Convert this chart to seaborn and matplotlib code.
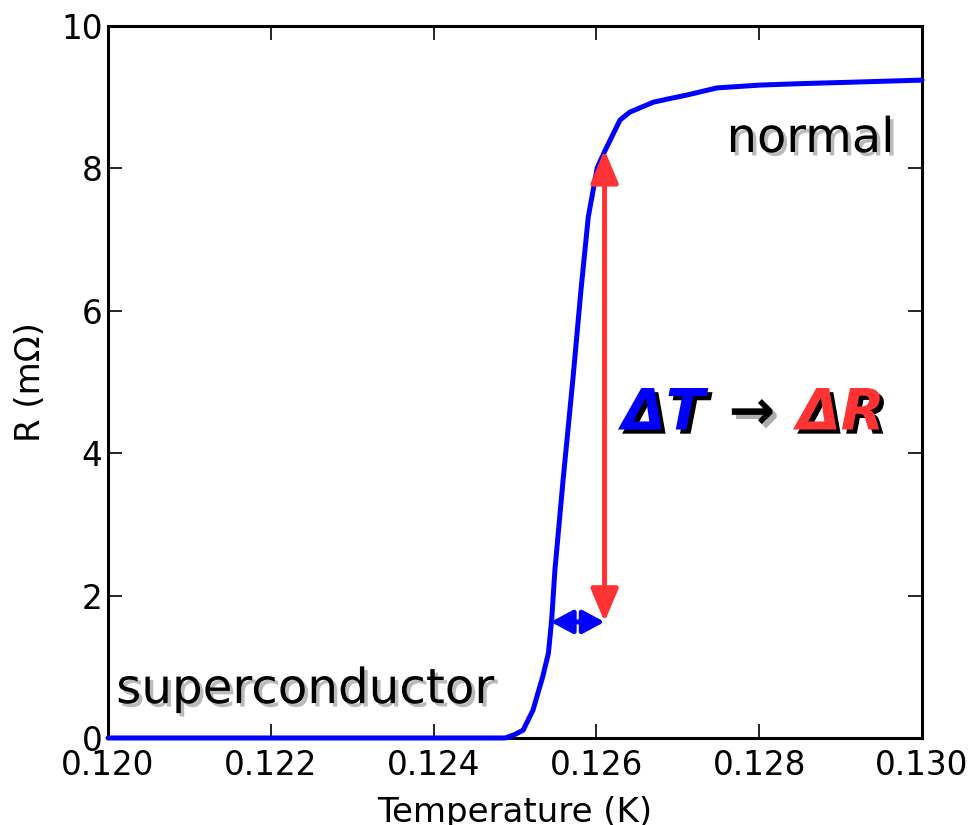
import matplotlib
matplotlib.use("Agg")
import matplotlib.pyplot as plt
import matplotlib.patheffects as pe
import numpy as np
import pandas as pd
import seaborn as sns

# Resistance transition of the superconducting film
temperature_K = [0.1200, 0.1230, 0.12488, 0.12500, 0.12510, 0.12522, 0.12534,
                 0.12541, 0.12545, 0.12549, 0.12559, 0.12571, 0.12581, 0.12590,
                 0.12601, 0.12611, 0.12629, 0.12641, 0.12670, 0.12690, 0.12711,
                 0.12748, 0.12801, 0.12850, 0.12912, 0.13000]
resistance_mOhm = [0.0, 0.0, 0.0, 0.05, 0.11, 0.39, 0.86,
                   1.19, 1.66, 2.36, 3.62, 5.03, 6.29, 7.32,
                   8.01, 8.26, 8.68, 8.79, 8.93, 8.98, 9.03,
                   9.13, 9.17, 9.19, 9.21, 9.24]

# Illustrated sensitivity: a small temperature step maps to a large resistance step
dT_start, dT_end = 0.12544, 0.12610
dR_low, dR_high = 1.63, 8.26

x_ticks = [0.120, 0.122, 0.124, 0.126, 0.128, 0.130]
y_ticks = [0, 2, 4, 6, 8, 10]

sns.set_style("ticks")
plt.rcParams["font.family"] = ["DejaVu Sans"]

df = pd.DataFrame({"T": temperature_K, "R": resistance_mOhm})

fig = plt.figure(figsize=(9.76, 8.25), dpi=100)
ax = fig.add_axes([0.1107, 0.1055, 0.834, 0.863])

sns.lineplot(data=df, x="T", y="R", ax=ax, color="#0000ff", linewidth=3.6,
             clip_on=False, zorder=3)

ax.set_xlim(0.120, 0.130)
ax.set_ylim(0, 10)
ax.set_xticks(x_ticks)
ax.set_xticklabels([f"{v:.3f}" for v in x_ticks])
ax.set_yticks(y_ticks)
ax.set_yticklabels([str(v) for v in y_ticks])
ax.tick_params(direction="in", length=10, width=1.2, top=True, right=True,
               labelsize=23.5, colors="black")
ax.tick_params(axis="x", pad=8)
ax.tick_params(axis="y", pad=4)
for s in ax.spines.values():
    s.set_linewidth(2.2)
    s.set_color("black")
ax.set_xlabel("Temperature (K)", fontsize=24.5, labelpad=10, color="black")
ax.set_ylabel("R (m\u03a9)", fontsize=24.5, labelpad=10, color="black")

# Double-headed arrows for ΔR (red) and ΔT (blue)
ax.annotate("", xy=(dT_end, dR_high), xytext=(dT_end, dR_low),
            arrowprops=dict(arrowstyle="<|-|>,head_length=1.0,head_width=0.42",
                            mutation_scale=20, color="#ff3333", lw=3.6,
                            shrinkA=0, shrinkB=0), zorder=4)
ax.annotate("", xy=(dT_end, dR_low), xytext=(dT_start, dR_low),
            arrowprops=dict(arrowstyle="<|-|>,head_length=0.65,head_width=0.35",
                            mutation_scale=20, color="#0000ff", lw=3.6,
                            shrinkA=0, shrinkB=0), zorder=4)

soft_shadow = [pe.SimplePatchShadow(offset=(2.5, -2.5), shadow_rgbFace="0.55",
                                    alpha=0.6), pe.Normal()]
ax.text(0.1201, 0.49, "superconductor", fontsize=34.8, color="black",
        ha="left", va="baseline", path_effects=soft_shadow)
ax.text(0.12966, 8.23, "normal", fontsize=34.5, color="black",
        ha="right", va="baseline", path_effects=soft_shadow)

hard_shadow = [pe.SimplePatchShadow(offset=(3, -3), shadow_rgbFace="black",
                                    alpha=1.0), pe.Normal()]
gray_shadow = [pe.SimplePatchShadow(offset=(3, -3), shadow_rgbFace="0.6",
                                    alpha=0.8), pe.Normal()]
ax.text(0.12631, 4.55, "\u0394T", fontsize=41, fontweight="bold",
        fontstyle="italic", color="#0000ff", ha="left", va="center",
        path_effects=hard_shadow)
ax.text(0.12791, 4.55, "\u2192", fontsize=40, fontweight="bold",
        color="black", ha="center", va="center", path_effects=gray_shadow)
ax.text(0.12846, 4.55, "\u0394R", fontsize=41, fontweight="bold",
        fontstyle="italic", color="#ff3333", ha="left", va="center",
        path_effects=hard_shadow)

fig.savefig("out.png", dpi=100)
